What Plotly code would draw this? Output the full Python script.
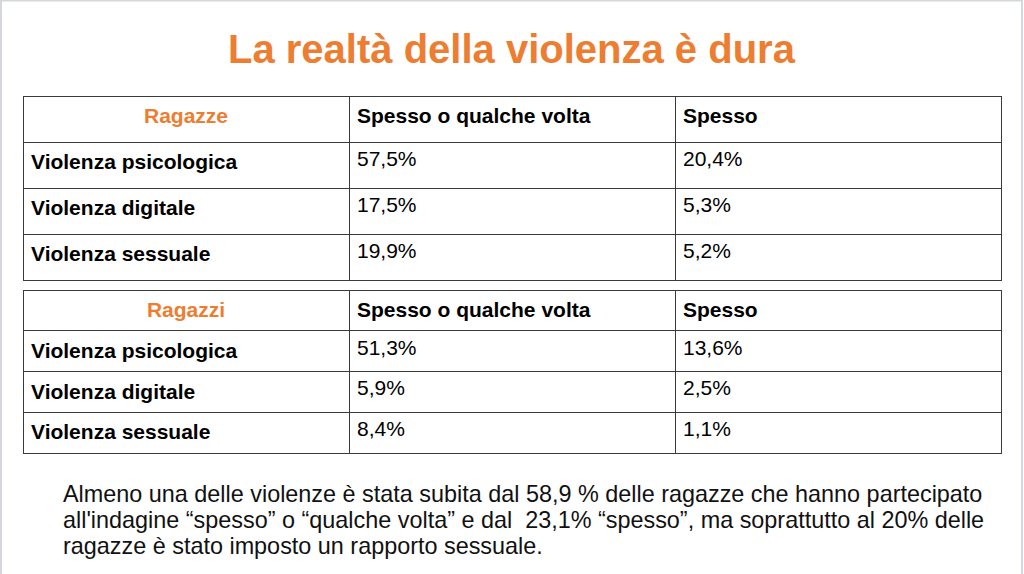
import plotly.graph_objects as go

# slide text
titolo = "La realtà della violenza è dura"
nota = ["Almeno una delle violenze è stata subita dal 58,9 % delle ragazze che hanno partecipato",
        "all'indagine “spesso” o “qualche volta” e dal  23,1% “spesso”, ma soprattutto al 20% delle",
        "ragazze è stato imposto un rapporto sessuale."]

# table data
colonne = ["Spesso o qualche volta", "Spesso"]
tipi_violenza = ["Violenza psicologica", "Violenza digitale", "Violenza sessuale"]
ragazze_spesso_qualche = [57.5, 17.5, 19.9]
ragazze_spesso = [20.4, 5.3, 5.2]
ragazzi_spesso_qualche = [51.3, 5.9, 8.4]
ragazzi_spesso = [13.6, 2.5, 1.1]

ARANCIO = "#ED7D31"
BORDO = "#3a3a3a"
W, H = 1024, 574


def pct(v):
    return f"{v:.1f}%".replace(".", ",")


def tabella(gruppo, col1, col2, top, row_h):
    n = len(tipi_violenza) + 1
    return go.Table(
        domain=dict(x=[23 / W, 1001 / W], y=[1 - (top + n * row_h + 4) / H, 1 - top / H]),
        columnwidth=[1, 1, 1],
        header=dict(
            values=[f"<b>{gruppo}</b>"] + [f"<b>{c}</b>" for c in colonne],
            align=["center", "left", "left"],
            font=dict(family="Liberation Sans", size=21, color=[ARANCIO, "black", "black"]),
            line=dict(color=BORDO, width=1),
            fill=dict(color="white"),
            height=row_h,
        ),
        cells=dict(
            values=[[f"<b>{t}</b>" for t in tipi_violenza],
                    [pct(v) for v in col1],
                    [pct(v) for v in col2]],
            align="left",
            font=dict(family="Liberation Sans", size=21, color="black"),
            line=dict(color=BORDO, width=1),
            fill=dict(color="white"),
            height=row_h,
        ),
    )


fig = go.Figure()
fig.add_trace(tabella("Ragazze", ragazze_spesso_qualche, ragazze_spesso, 96, 46))
fig.add_trace(tabella("Ragazzi", ragazzi_spesso_qualche, ragazzi_spesso, 290, 40.8))

fig.add_annotation(text=f"<b>{titolo}</b>", x=0.5, y=1 - 49 / H, xref="paper", yref="paper",
                   yanchor="middle", showarrow=False,
                   font=dict(family="Liberation Sans", size=40, color=ARANCIO))
for i, riga in enumerate(nota):
    fig.add_annotation(text=riga, x=61 / W, y=1 - (494 + 26 * i) / H, xref="paper", yref="paper",
                       xanchor="left", yanchor="middle", align="left", showarrow=False,
                       font=dict(family="Liberation Sans", size=23.4, color="#111111"))

# slide frame
fig.add_shape(type="rect", xref="paper", yref="paper", x0=1 / W, x1=1022 / W, y0=-0.05, y1=1 - 0.5 / H,
              line=dict(color="#d4d8dc", width=2))

fig.update_layout(width=W, height=H, margin=dict(l=0, r=0, t=0, b=0),
                  paper_bgcolor="white", plot_bgcolor="white")
fig.write_html("out.html", config={"displayModeBar": False},
               post_script="document.body.style.margin='0';")
